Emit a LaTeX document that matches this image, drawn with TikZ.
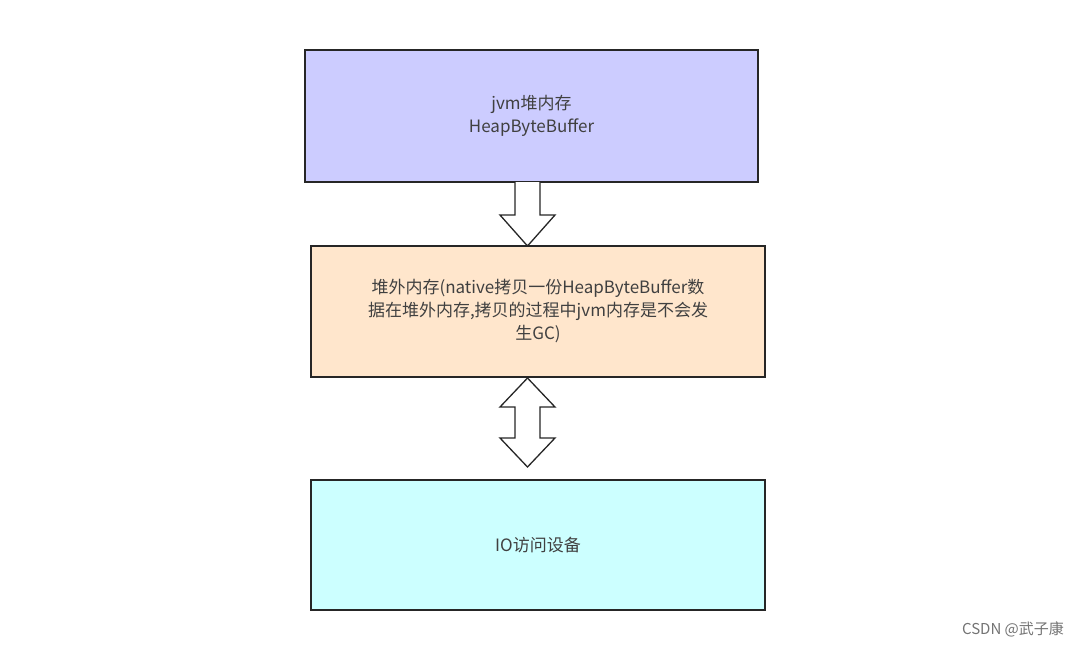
\documentclass[tikz,border=0pt]{standalone}
\usepackage{fontspec}
\setmainfont{Noto Sans CJK SC}
\begin{document}
\begin{tikzpicture}[x=1pt,y=-1pt,
  box/.style={draw=black!85,line width=1.3pt,inner sep=0pt,text=black!75,font=\fontsize{17}{23}\selectfont,align=center},
  barrow/.style={draw=black!85,line width=1.3pt,fill=white,line join=miter}]
\useasboundingbox (0,0) rectangle (1088,646);
\node[box,fill={rgb,255:red,204;green,204;blue,255},minimum width=453pt,minimum height=132pt] (a) at (531.5,116) {jvm堆内存\\HeapByteBuffer};
\node[box,fill={rgb,255:red,255;green,230;blue,204},minimum width=454pt,minimum height=131pt,text width=440pt] (b) at (538,311.5) {堆外内存(native拷贝一份HeapByteBuffer数\\据在堆外内存,拷贝的过程中jvm内存是不会发\\生GC)};
\node[box,fill={rgb,255:red,204;green,255;blue,255},minimum width=454pt,minimum height=130pt] (c) at (538,545) {IO访问设备};
\draw[barrow] (515,182) -- (515,215) -- (500,215) -- (527.5,246) -- (555,215) -- (540,215) -- (540,182);
\draw[barrow] (527.5,378) -- (500,407) -- (515,407) -- (515,438) -- (500,438) -- (527.5,467) -- (555,438) -- (540,438) -- (540,407) -- (555,407) -- cycle;
\node[text=black!55,font=\fontsize{15}{18}\selectfont] (w) at (1013,629) {CSDN @武子康};
\end{tikzpicture}
\end{document}
